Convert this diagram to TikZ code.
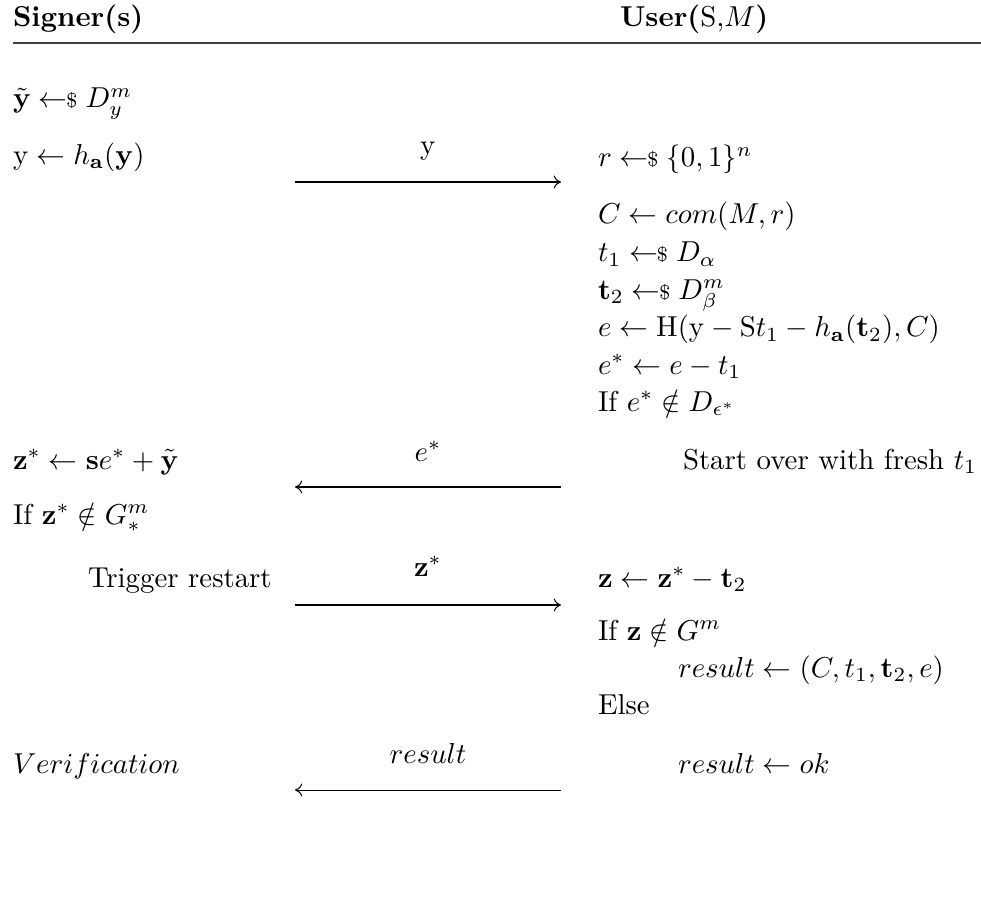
\documentclass[tikz,border=0pt]{standalone}
\usepackage{amsmath,amssymb}
\usetikzlibrary{arrows.meta}
\newcommand{\smp}{\mathrel{\leftarrow\!\!\mbox{\scriptsize\$}}}
\tikzset{
  txt/.style={anchor=base west, inner sep=0pt, outer sep=0pt},
  lbl/.style={anchor=base, inner sep=0pt, outer sep=0pt},
  msg/.style={-{To[length=2.5pt,width=4.5pt]}, line width=0.35pt}
}
\begin{document}
\begin{tikzpicture}[x=0.3472pt,y=-0.3472pt]
\useasboundingbox (0,0) rectangle (981,900);
% header
\node[txt] (hs) at (13,27) {\textbf{Signer(s)}};
\node[txt] (hu) at (620,27) {\textbf{User(}S,$M$\textbf{)}};
\coordinate (rl) at (13,43);
\coordinate (rr) at (981,43);
\draw[line width=0.6pt, black!75] (rl) -- (rr);
% signer column
\node[txt] (s1) at (13,108) {$\tilde{\mathbf{y}} \smp D_y^m$};
\node[txt] (s2) at (13,164) {$\mathrm{y} \gets h_{\mathbf{a}}(\mathbf{y})$};
\node[txt] (s3) at (13,469) {$\mathbf{z}^* \gets \mathbf{s}e^* + \tilde{\mathbf{y}}$};
\node[txt] (s4) at (13,524) {If $\mathbf{z}^* \notin G_*^m$};
\node[txt] (s5) at (88,587) {Trigger restart};
\node[txt] (s6) at (13,773) {$Verification$};
% user column
\node[txt] (u1) at (598,167) {$r \smp \{0,1\}^n$};
\node[txt] (u2) at (598,224) {$C \gets com(M,r)$};
\node[txt] (u3) at (598,262) {$t_1 \smp D_\alpha$};
\node[txt] (u4) at (598,299) {$\mathbf{t}_2 \smp D_\beta^m$};
\node[txt] (u5) at (598,337) {$e \gets \mathrm{H}(\mathrm{y} - \mathrm{S}t_1 - h_{\mathbf{a}}(\mathbf{t}_2), C)$};
\node[txt] (u6) at (598,374) {$e^* \gets e - t_1$};
\node[txt] (u7) at (598,411) {If $e^* \notin D_{\epsilon^*}$};
\node[txt] (u8) at (683,469) {Start over with fresh $t_1$};
\node[txt] (u9) at (598,587) {$\mathbf{z} \gets \mathbf{z}^* - \mathbf{t}_2$};
\node[txt] (u10) at (598,640) {If $\mathbf{z} \notin G^m$};
\node[txt] (u11) at (678,677) {$result \gets (C, t_1, \mathbf{t}_2, e)$};
\node[txt] (u12) at (598,714) {Else};
\node[txt] (u13) at (678,773) {$result \gets ok$};
% messages
\coordinate (a1l) at (295,182); \coordinate (a1r) at (561,182);
\coordinate (a2l) at (295,487); \coordinate (a2r) at (561,487);
\coordinate (a3l) at (295,605); \coordinate (a3r) at (561,605);
\coordinate (a4l) at (295,790); \coordinate (a4r) at (561,790);
\draw[msg] (a1l) -- (a1r);
\draw[msg] (a2r) -- (a2l);
\draw[msg] (a3l) -- (a3r);
\draw[msg] (a4r) -- (a4l);
\node[lbl] (m1) at (428,155) {$\mathrm{y}$};
\node[lbl] (m2) at (428,461) {$e^*$};
\node[lbl] (m3) at (428,576) {$\mathbf{z}^*$};
\node[lbl] (m4) at (428,763) {$result$};
\end{tikzpicture}
\end{document}
